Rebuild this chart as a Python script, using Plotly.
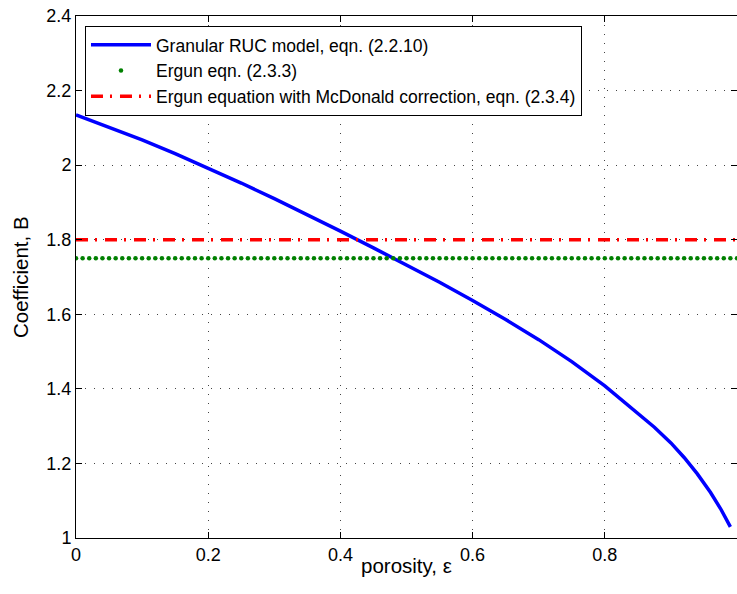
import numpy as np
import plotly.graph_objects as go

# Granular RUC model, eqn. (2.2.10): coefficient B versus porosity
porosity = [0.0, 0.05, 0.1, 0.15, 0.2, 0.25, 0.3, 0.35, 0.4, 0.45, 0.5, 0.55, 0.6,
            0.65, 0.7, 0.75, 0.8, 0.85, 0.875, 0.9, 0.92, 0.94, 0.96, 0.975, 0.99]
coef_ruc = [2.135, 2.102, 2.068, 2.031, 1.992, 1.952, 1.910, 1.867, 1.823, 1.778, 1.733,
            1.686, 1.637, 1.586, 1.532, 1.473, 1.408, 1.336, 1.297, 1.255, 1.216,
            1.172, 1.122, 1.079, 1.030]

# Ergun constants
ergun_B = 1.75          # eqn. (2.3.3)
mcdonald_B = 1.8        # eqn. (2.3.4)
ergun_eps = np.linspace(0.0, 1.0, 101)   # sample points for the dotted Ergun line

x_ticks = [0, 0.2, 0.4, 0.6, 0.8, 1]
x_tick_text = ["0", "0.2", "0.4", "0.6", "0.8", "1"]
y_ticks = [1, 1.2, 1.4, 1.6, 1.8, 2, 2.2, 2.4]
y_tick_text = ["1", "1.2", "1.4", "1.6", "1.8", "2", "2.2", "2.4"]

font = "Liberation Sans, Arial, sans-serif"

fig = go.Figure()

fig.add_trace(go.Scatter(
    x=porosity, y=coef_ruc, mode="lines",
    line=dict(color="#0000FF", width=3.5),
    name="Granular RUC model, eqn. (2.2.10)",
))
fig.add_trace(go.Scatter(
    x=ergun_eps, y=[ergun_B] * len(ergun_eps), mode="markers",
    marker=dict(color="#008000", size=4.5),
    name="Ergun eqn. (2.3.3)",
))
fig.add_trace(go.Scatter(
    x=[0, 1], y=[mcdonald_B, mcdonald_B], mode="lines",
    line=dict(color="#FF0000", width=3.5, dash="12px,7px,2px,8px"),
    name="Ergun equation with McDonald correction, eqn. (2.3.4)",
))

axis_common = dict(
    showline=True, linecolor="black", linewidth=1, mirror="ticks",
    ticks="inside", ticklen=6, tickcolor="black", tickwidth=1,
    showgrid=True, gridcolor="#444444", gridwidth=1, griddash="1px,8px",
    zeroline=False, tickfont=dict(family=font, size=18, color="black"),
)

fig.update_layout(
    width=737, height=594,
    margin=dict(l=76, r=0, t=16, b=56),
    paper_bgcolor="white", plot_bgcolor="white",
    font=dict(family=font, color="black"),
    xaxis=dict(range=[0, 1], tickvals=x_ticks, ticktext=x_tick_text, **axis_common),
    yaxis=dict(range=[1, 2.4], tickvals=y_ticks, ticktext=y_tick_text, **axis_common),
    legend=dict(
        x=0.0136, y=0.981, xanchor="left", yanchor="top",
        bgcolor="white", bordercolor="black", borderwidth=1,
        font=dict(family=font, size=17.5, color="black"),
        itemwidth=60, tracegroupgap=0,
    ),
    showlegend=True,
    annotations=[
        dict(text="porosity, ε", xref="paper", yref="paper", x=0.5, y=0,
             xanchor="center", yanchor="middle", yshift=-27, showarrow=False,
             font=dict(family=font, size=20.5, color="black")),
        dict(text="Coefficient, B", xref="paper", yref="paper", x=0, y=0.5,
             xanchor="center", yanchor="middle", xshift=-56, textangle=-90,
             showarrow=False, font=dict(family=font, size=20.5, color="black")),
    ],
)

fig.write_html("out.html")
